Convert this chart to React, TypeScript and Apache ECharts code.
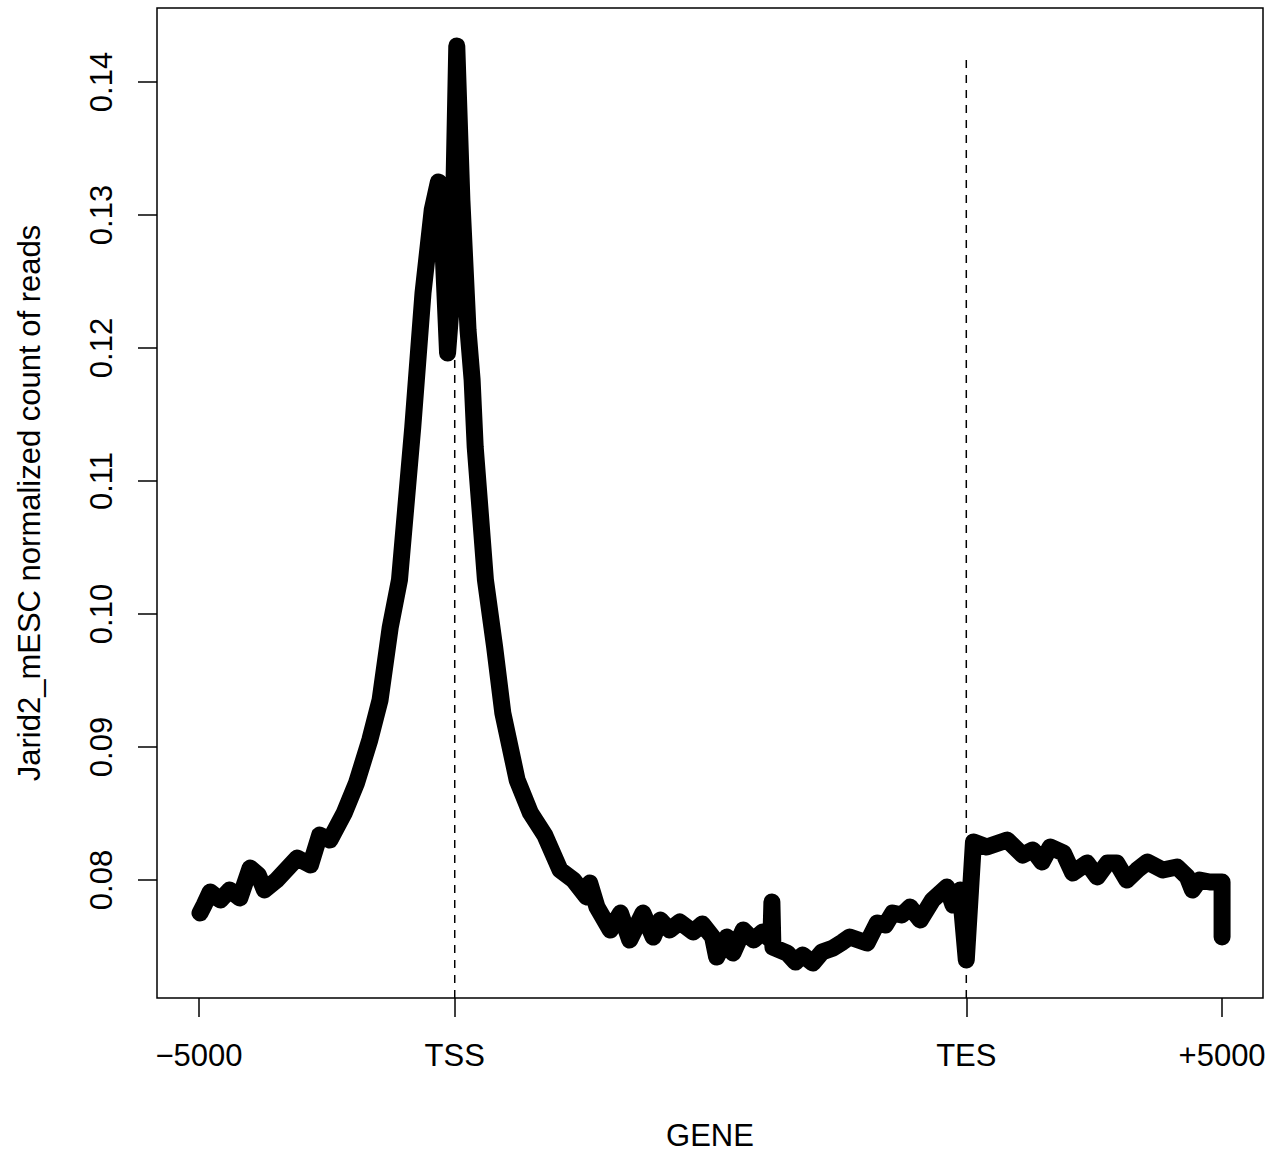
import React, { useEffect, useRef } from "react";
import * as echarts from "echarts";

// Position along the meta-gene (0 = -5000, 250 = TSS, 750 = TES, 1000 = +5000)
const positions = [
  1, 5, 11, 21, 30, 40, 50, 58, 64, 76, 96, 109, 118, 128, 142, 154, 167, 177, 187, 196,
  209, 219, 228, 234, 239, 243, 247, 252, 257, 263, 267, 270, 275, 280, 289, 297, 311, 324, 338, 353,
  366, 379, 382, 389, 402, 412, 421, 434, 444, 451, 460, 470, 483, 492, 502, 506, 516, 522, 532, 542,
  551, 559, 560, 561, 575, 583, 590, 600, 609, 620, 629, 636, 653, 663, 671, 678, 687, 695, 705, 717,
  731, 737, 744, 750, 757, 770, 790, 805, 815, 824, 832, 845, 854, 868, 878, 888, 897, 907, 917, 927,
  942, 956, 966, 971, 978, 988, 1000, 1000,
];

// Jarid2_mESC normalized count of reads
const reads = [
  0.07752, 0.07812, 0.0791, 0.0785, 0.07925, 0.07865, 0.0809, 0.08038, 0.07925, 0.08, 0.08165, 0.08113,
  0.08338, 0.08301, 0.08504, 0.08729, 0.09053, 0.09353, 0.09902, 0.10256, 0.11406, 0.12414, 0.13038,
  0.13248, 0.12662, 0.11962, 0.12361, 0.14271, 0.13113, 0.12135, 0.11759, 0.11256, 0.10759, 0.10256,
  0.09752, 0.09256, 0.08752, 0.08504, 0.08338, 0.08075, 0.08, 0.07872, 0.07977, 0.07797, 0.07624,
  0.07752, 0.07549, 0.07752, 0.07571, 0.07699, 0.07624, 0.07684, 0.07609, 0.07669, 0.07571, 0.07421,
  0.07571, 0.07451, 0.07624, 0.07549, 0.07609, 0.07549, 0.07835, 0.07496, 0.07451, 0.07383, 0.07436,
  0.07376, 0.07459, 0.07489, 0.07534, 0.07571, 0.07526, 0.07677, 0.07662, 0.07752, 0.07737, 0.07797,
  0.07699, 0.0785, 0.07947, 0.07812, 0.07925, 0.07398, 0.08286, 0.08248, 0.08301, 0.08188, 0.08226,
  0.08135, 0.08248, 0.08203, 0.08053, 0.08128, 0.08023, 0.08128, 0.08128, 0.08, 0.08075, 0.08135,
  0.08075, 0.08098, 0.08023, 0.07925, 0.08, 0.07985, 0.07985, 0.07571,
];

const xTickValues = [0, 250, 750, 1000];
const xTickLabels = ["\u22125000", "TSS", "TES", "+5000"];
const yTickValues = [0.08, 0.09, 0.1, 0.11, 0.12, 0.13, 0.14];
const markerPositions = [250, 750];
const markerTop = 0.1421;

const X_MIN = -41;
const X_MAX = 1040;
const Y_MIN = 0.07113;
const Y_MAX = 0.14556;

export default function App() {
  const ref = useRef<HTMLDivElement>(null);
  useEffect(() => {
    if (!ref.current) return;
    const chart = echarts.init(ref.current, null, { renderer: "svg" });
    const font = "'Liberation Sans', Arial, Helvetica, sans-serif";
    const markerSeries = markerPositions.map((p) => ({
      type: "line",
      data: [
        [p, Y_MIN],
        [p, markerTop],
      ],
      showSymbol: false,
      silent: true,
      lineStyle: { color: "#000", width: 1.5, type: [8, 7] },
      z: 2,
    }));
    chart.setOption({
      animation: false,
      backgroundColor: "#fff",
      grid: {
        left: 157,
        right: 5,
        top: 8,
        bottom: 154,
        show: true,
        borderColor: "#000",
        borderWidth: 1.5,
        backgroundColor: "transparent",
        containLabel: false,
        outerBoundsMode: "none",
      },
      xAxis: {
        type: "value",
        min: X_MIN,
        max: X_MAX,
        name: "GENE",
        nameLocation: "middle",
        nameGap: 122,
        nameTextStyle: { fontFamily: font, fontSize: 31, lineHeight: 31, color: "#000" },
        axisLine: { show: false, onZero: false },
        splitLine: { show: false },
        axisTick: {
          show: true,
          inside: false,
          length: 19,
          customValues: xTickValues,
          lineStyle: { color: "#000", width: 1.5 },
        },
        axisLabel: {
          show: true,
          margin: 42,
          customValues: xTickValues,
          fontFamily: font,
          fontSize: 31,
          color: "#000",
          formatter: (v: number) => {
            const i = xTickValues.indexOf(Math.round(v));
            return i >= 0 ? xTickLabels[i] : "";
          },
        },
      },
      yAxis: {
        type: "value",
        min: Y_MIN,
        max: Y_MAX,
        name: "Jarid2_mESC normalized count of reads",
        nameLocation: "middle",
        nameGap: 112,
        nameRotate: 90,
        nameTextStyle: { fontFamily: font, fontSize: 31, color: "#000" },
        axisLine: { show: false, onZero: false },
        splitLine: { show: false },
        axisTick: {
          show: true,
          inside: false,
          length: 19,
          customValues: yTickValues,
          lineStyle: { color: "#000", width: 1.5 },
        },
        axisLabel: {
          show: true,
          rotate: 90,
          margin: 40,
          customValues: yTickValues,
          fontFamily: font,
          fontSize: 31,
          color: "#000",
          formatter: (v: number) => v.toFixed(2),
        },
      },
      series: [
        ...markerSeries,
        {
          type: "line",
          data: positions.map((p, i) => [p, reads[i]]),
          showSymbol: false,
          silent: true,
          lineStyle: { color: "#000", width: 17, cap: "round", join: "round" },
          z: 3,
        },
      ],
    });
    return () => chart.dispose();
  }, []);
  return (
    <div
      ref={ref}
      style={{ position: "absolute", left: 0, top: 0, width: 1268, height: 1152 }}
    />
  );
}
